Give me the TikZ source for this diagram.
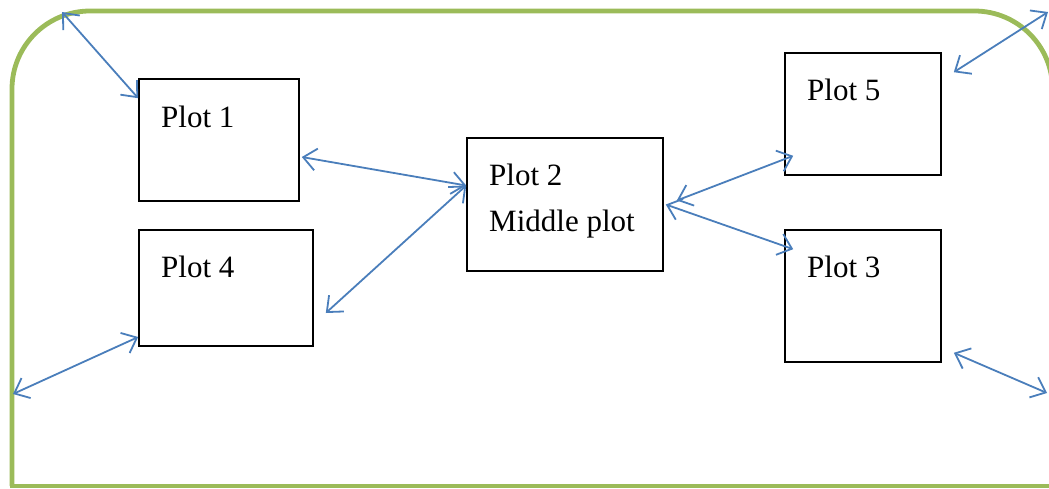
\documentclass[tikz,border=0pt]{standalone}
\usepackage{fontspec}
\setmainfont{Liberation Serif}
\usetikzlibrary{arrows.meta}
\definecolor{frameGreen}{RGB}{155,187,89}
\definecolor{arrowBlue}{RGB}{74,126,187}
\begin{document}
\begin{tikzpicture}[x=1pt,y=-1pt,
  plotbox/.style={draw=black,line width=1.6pt,inner sep=0pt},
  plotlabel/.style={anchor=base west,inner sep=0pt,font=\fontsize{31}{37}\selectfont},
  framepath/.style={draw=frameGreen,line width=4.8pt},
  link/.style={draw=arrowBlue,line width=1.8pt,{Straight Barb[length=13pt,width=22pt,line width=1.8pt]}-{Straight Barb[length=13pt,width=22pt,line width=1.8pt]}}]
\useasboundingbox (0,0) rectangle (1049,488);
\begin{scope}
\clip (0,0) rectangle (1049,488);
% frame
\draw[framepath,rounded corners=78pt] (12,486) -- (12,11) -- (1052.5,11) -- (1052.5,488);
\draw[framepath] (9.6,486) -- (1052,486);
\end{scope}
% boxes
\node[plotbox,minimum width=160pt,minimum height=122pt] (p1) at (219,140) {};
\node[plotbox,minimum width=174pt,minimum height=116pt] (p4) at (226,288) {};
\node[plotbox,minimum width=196pt,minimum height=133pt] (p2) at (565,204.5) {};
\node[plotbox,minimum width=156pt,minimum height=122pt] (p5) at (863,114) {};
\node[plotbox,minimum width=156pt,minimum height=132pt] (p3) at (863,296) {};
% labels
\node[plotlabel] (t1) at (161,127) {Plot 1};
\node[plotlabel] (t4) at (161,277) {Plot 4};
\node[plotlabel] (t2) at (489,185) {Plot 2};
\node[plotlabel] (t2b) at (489,231) {Middle plot};
\node[plotlabel] (t5) at (807,100) {Plot 5};
\node[plotlabel] (t3) at (807,277) {Plot 3};
% free ends
\coordinate (ctl) at (62,12);
\coordinate (cl) at (13,394);
\coordinate (ctr) at (1048,12);
\coordinate (cr) at (1047,393);
% connectors
\draw[link] (ctl) -- ([yshift=-20pt]p1.north west);
\draw[link] ([xshift=2pt,yshift=-17pt]p1.east) -- ([yshift=19pt]p2.west);
\draw[link] ([xshift=12pt,yshift=-25pt]p4.east) -- ([yshift=19pt]p2.west);
\draw[link] ([yshift=-49pt]p4.west) -- (cl);
\draw[link] ([xshift=13pt,yshift=4pt]p2.east) -- ([xshift=9pt,yshift=20pt]p5.south west);
\draw[link] ([xshift=2pt]p2.east) -- ([xshift=9pt,yshift=-20pt]p3.north west);
\draw[link] ([xshift=12pt,yshift=-20pt]p5.north east) -- (ctr);
\draw[link] ([xshift=12pt,yshift=10pt]p3.south east) -- (cr);
\end{tikzpicture}
\end{document}
